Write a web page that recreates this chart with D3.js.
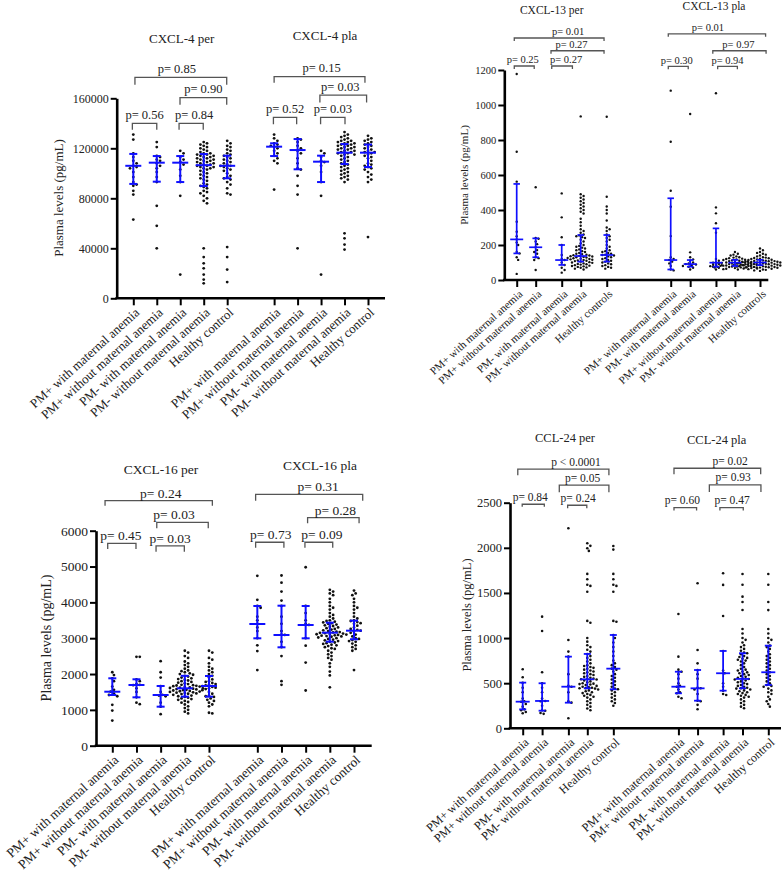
<!DOCTYPE html>
<html><head><meta charset="utf-8">
<script src="https://cdn.jsdelivr.net/npm/d3@7"></script>
<style>body{margin:0;background:#fff}</style>
</head><body><svg id="c" width="782" height="872"></svg>
<script>
// ---------------- DATA ----------------
const categories = ["PM+ with maternal anemia","PM+ without maternal anemia","PM- with maternal anemia","PM- without maternal anemia","Healthy control"];
const categoriesCxcl13Per = ["PM+ with maternal anemia","PM+ without maternal anemia","PM- with maternal anemia","PM- without maternal anemia","Healthy controls"];
const categoriesCxcl13Pla = ["PM+ with maternal anemia","PM- with maternal anemia","PM+ without maternal anemia","PM- without maternal anemia","Healthy controls"];

const cxcl4Titles = ["CXCL-4 per","CXCL-4 pla"];
const cxcl4Ticks = [0,40000,80000,120000,160000];
const cxcl4Values = [
 [131000,127000,116000,113000,110000,108000,106000,105000,104000,101000,97000,93000,91000,90000,86000,83000,63000],
 [125000,121000,114000,113000,111000,110000,108000,106000,104000,101000,97000,93000,74000,58000,40000],
 [118000,116000,113000,111000,109000,107000,103000,98000,93000,82000,19000],
 [125000,124000,123000,122000,121000,120000,119000,118000,117000,116000,116000,115000,115000,114000,114000,113000,113000,112000,112000,111000,111000,110000,110000,109000,109000,108000,108000,107000,107000,106000,106000,105000,105000,104000,104000,103000,102000,101000,100000,99000,98000,97000,96000,95000,94000,92000,91000,90000,89000,88000,86000,85000,84000,82000,80000,78000,76000,40000,33000,28000,24000,19000,15000,12000],
 [126000,124000,122000,121000,119000,118000,116000,115000,114000,113000,112000,111000,110000,109000,108000,107000,106000,106000,105000,104000,103000,102000,100000,98000,97000,96000,95000,93000,91000,88000,84000,83000,41000,33000,23000,13000],
 [131000,128000,126000,124000,123000,122000,121000,120000,118000,116000,114000,112000,110000,108000,87000],
 [128000,127000,125000,122000,120000,118000,116000,112000,108000,104000,103000,98000,90000,83000,40000],
 [118000,116000,113000,110000,109000,106000,101000,93000,82000,19000],
 [133000,131000,130000,129000,128000,127000,126000,126000,125000,125000,124000,124000,123000,123000,122000,122000,121000,121000,120000,120000,119000,119000,118000,118000,117000,117000,116000,116000,115000,115000,114000,113000,112000,111000,110000,109000,108000,107000,106000,105000,104000,103000,102000,101000,100000,99000,98000,97000,96000,95000,93000,52000,48000,43000,39000],
 [130000,128000,127000,126000,125000,124000,123000,122000,121000,120000,119000,118000,117000,117000,116000,115000,114000,113000,112000,110000,108000,107000,106000,105000,104000,103000,101000,99000,97000,95000,93000,49000]
];
const cxcl4Median = [106000,108500,108500,106500,106000,121300,118600,109300,116500,116500];
const cxcl4Q1 = [91500,93300,93000,89800,96000,113800,103200,93000,107400,105000];
const cxcl4Q3 = [115500,113800,113800,115400,114100,124000,127400,114100,123400,123000];
const cxcl4PText = ["p= 0.85","p= 0.90","p= 0.56","p= 0.84","p= 0.15","p= 0.03","p= 0.52","p= 0.03"];
const cxcl4PLevel = [176800,160500,140000,140000,177300,162600,144800,144800];

const cxcl13Titles = ["CXCL-13 per","CXCL-13 pla"];
const cxcl13Ticks = [0,200,400,600,800,1000,1200];
const cxcl13Values = [
 [1177,733,562,333,276,250,232,215,200,160,152,130,115,35],
 [530,240,236,220,205,187,171,160,150,130,125,114,57],
 [495,358,244,200,143,120,114,100,86,70,57,42],
 [935,490,480,470,460,450,440,430,420,410,400,390,380,350,330,310,290,280,270,260,255,250,245,240,230,220,210,200,195,190,185,180,175,170,165,160,155,150,148,145,142,140,138,136,134,132,130,128,126,124,122,120,118,116,114,112,110,108,105,102,100,98,95,92,90,88,85,82,80,78,75,72,70,65,60],
 [933,476,420,400,380,340,300,290,280,260,250,240,230,220,200,190,180,170,165,160,155,150,145,143,140,135,130,125,120,115,110,105,100,95,90,85,80,75,70,65],
 [1082,790,510,419,251,130,120,114,105,95,80,60,55],
 [949,158,130,118,110,100,95,91,88,85,80,76,70,60],
 [1067,415,381,324,270,120,110,100,99,92,85,80,76,70,60],
 [160,150,145,140,135,130,128,125,122,120,118,116,114,112,110,108,106,104,102,100,99,98,97,96,95,94,93,92,91,90,89,88,87,86,85,84,83,82,81,80,79,78,77,76,75,74,73,72,71,70,68,66,64,62,60],
 [180,170,160,155,150,145,140,135,130,128,126,124,122,120,118,116,114,112,110,109,108,107,106,105,104,103,102,101,100,99,98,97,96,95,94,93,92,91,90,90,89,88,87,86,85,85,84,83,82,81,80,80,79,78,77,76,75,74,73,72,71,70,68,66,64,62,60,58,55,52]
];
const cxcl13Median = [232,187,114,137,143,114,91,99,99,100];
const cxcl13Q1 = [152,130,86,105,105,60,76,76,80,85];
const cxcl13Q3 = [549,238,200,257,257,467,114,295,115,115];
const cxcl13PText = ["p= 0.01","p= 0.27","p= 0.25","p= 0.27","p= 0.01","p= 0.97","p= 0.30","p= 0.94"];
const cxcl13PLevel = [1383,1310,1223,1223,1407,1310,1221,1221];

const cxcl16Titles = ["CXCL-16 per","CXCL-16 pla"];
const cxcl16Ticks = [0,1000,2000,3000,4000,5000,6000];
const cxcl16Values = [
 [2050,1970,1880,1800,1650,1560,1507,1450,1415,1380,1140,980,700],
 [2480,2480,1850,1800,1720,1700,1690,1600,1500,1350,1200,1160],
 [2360,2050,1900,1660,1500,1420,1400,1380,1200,1090,880],
 [2650,2600,2500,2450,2350,2300,2250,2200,2150,2100,2080,2050,2020,2000,1980,1950,1930,1900,1880,1860,1840,1820,1800,1780,1760,1740,1720,1700,1690,1680,1670,1660,1650,1640,1630,1620,1610,1600,1590,1580,1570,1560,1550,1540,1530,1520,1510,1500,1490,1480,1470,1460,1450,1440,1420,1400,1380,1360,1340,1320,1300,1280,1250,1220,1200,1150,1100,1050,1000,950,900],
 [2650,2600,2450,2400,2300,2200,2150,2100,2050,2000,1950,1900,1850,1800,1780,1750,1720,1700,1680,1660,1640,1620,1600,1580,1550,1500,1450,1400,1380,1360,1320,1280,1250,1200,1150,1100,920,900],
 [4740,4070,3900,3850,3600,3500,3400,3300,3200,3000,2800,2640,2110],
 [4750,4550,4300,4050,3900,3600,3400,3200,3100,3090,2900,2750,2500,1800,1700],
 [4980,3900,3700,3500,3400,3370,3000,2790,2320,1540],
 [4350,4300,4250,4200,4100,4000,3900,3850,3800,3700,3650,3600,3550,3500,3480,3460,3440,3420,3400,3380,3360,3340,3320,3300,3280,3260,3240,3220,3200,3180,3170,3160,3150,3140,3130,3120,3110,3100,3090,3080,3070,3060,3050,3040,3020,3000,2980,2960,2940,2920,2900,2880,2860,2840,2820,2800,2780,2750,2720,2700,2650,2600,2550,2500,2450,2400,2300,2200,2070,1960,1630],
 [4330,4250,4200,4100,4000,3900,3850,3800,3700,3600,3550,3500,3480,3450,3420,3400,3350,3300,3260,3230,3210,3190,3150,3100,3050,3000,2980,2950,2920,2900,2850,2800,2750,2700,2650,2110]
];
const cxcl16Median = [1507,1694,1415,1601,1666,3397,3090,3369,3154,3210];
const cxcl16Q1 = [1415,1350,1089,1368,1368,2997,2746,2997,2903,2970];
const cxcl16Q3 = [1881,1853,1666,1950,1945,3899,3907,3899,3433,3489];
const cxcl16PText = ["p= 0.24","p= 0.03","p= 0.45","p= 0.03","p= 0.31","p= 0.28","p= 0.73","p= 0.09"];
const cxcl16PLevel = [6838,6235,5649,5574,7016,6363,5677,5677];

const ccl24Titles = ["CCL-24 per","CCL-24 pla"];
const ccl24Ticks = [0,500,1000,1500,2000,2500];
const ccl24Values = [
 [654,565,505,450,400,330,300,295,270,240,210,200,180,166],
 [1237,1079,621,500,450,400,330,303,300,250,200,195,170,160],
 [2217,979,850,794,600,470,461,400,300,284,111],
 [2050,2022,1996,1966,1711,1652,1590,1578,1514,1190,1170,1000,960,920,900,870,850,824,800,780,760,740,720,700,690,680,670,660,650,640,630,620,610,600,590,580,570,560,550,545,543,540,530,520,510,500,495,490,485,480,470,460,455,450,445,443,440,430,420,410,400,390,380,370,360,350,340,320,300,280,260,240,220,200],
 [2020,1980,1711,1652,1590,1578,1514,1190,1180,1034,1000,950,900,850,800,750,720,700,680,661,650,630,600,580,560,540,520,500,480,460,440,432,420,400,380,360,340,320,300,280,250],
 [1267,794,650,627,600,550,500,470,461,430,400,388,350,333],
 [1607,868,720,646,600,550,450,443,430,380,306,300,260,211],
 [1718,1589,1245,857,640,610,500,460,417,380,369],
 [1710,1590,1459,1400,1311,1100,1050,1000,980,950,920,900,880,860,840,832,820,800,790,780,770,760,750,740,720,700,680,660,650,640,630,620,610,600,590,580,570,560,550,547,540,530,520,510,500,490,480,470,460,450,443,440,430,420,410,400,390,380,370,360,350,340,320,300,280,260,240,222],
 [1710,1590,1400,1310,1100,1050,1000,980,950,916,900,880,850,820,800,780,760,740,720,700,680,660,640,621,600,580,560,540,520,500,480,470,460,440,420,400,380,350,320,300,270,240]
];
const ccl24Median = [295,303,461,543,661,461,443,610,547,621];
const ccl24Q1 = [210,195,284,443,432,388,306,417,443,480];
const ccl24Q3 = [506,499,794,824,1034,627,646,857,832,916];
const ccl24PText = ["p < 0.0001","p= 0.05","p= 0.84","p= 0.24","p= 0.02","p= 0.93","p= 0.60","p= 0.47"];
const ccl24PLevel = [2871,2694,2483,2472,2882,2697,2446,2446];

// ---------------- LAYOUT ----------------
const FONT = "'Liberation Serif','Times New Roman',Times,serif";
const BLUE = "#0f0fff";
const panels = [
 { values: cxcl4Values, med: cxcl4Median, q1: cxcl4Q1, q3: cxcl4Q3, titles: cxcl4Titles, ticks: cxcl4Ticks,
   labels: categories.concat(categories), pText: cxcl4PText, pLevel: cxcl4PLevel,
   slots:[0,1,2,3,4,6,7,8,9,10], x0:133.3, unit:23.47, axisX:116.7, axisEnd:385, yRange:[298.3,98.3], yMax:160000,
   titlePos:[[181.7,38.3],[325,35]], titleSize:13, tickSize:12, labelSize:13, ylabSize:13, pSize:12.5,
   ylab:[58,198], r:1.4, medW:16, capW:8, lw:2,
   br:[[0.07,3.98],[1.99,3.98],[-0.04,1.0],[1.95,2.98],[6.0,9.87],[7.95,9.94],[5.97,6.96],[7.98,9.02]],
   brDx:[-4,0,0,3,2,-3,0,0], brDrop:[7.5,7,6.5,6.5,6,7.5,7,7], pOff:8.5 },
 { values: cxcl13Values, med: cxcl13Median, q1: cxcl13Q1, q3: cxcl13Q3, titles: cxcl13Titles, ticks: cxcl13Ticks,
   labels: categoriesCxcl13Per.concat(categoriesCxcl13Pla), pText: cxcl13PText, pLevel: cxcl13PLevel,
   slots:[0,0.78,1.85,2.63,3.70,6.33,7.13,8.19,8.97,10], x0:516.7, unit:24.33, axisX:504.3, axisEnd:768.3, yRange:[280,70], yMax:1200,
   titlePos:[[551.7,9.5],[714,5.5]], titleSize:11.5, tickSize:10.5, labelSize:11, ylabSize:11, pSize:10.5,
   ylab:[464,175], r:1.2, medW:13, capW:6.5, lw:1.7,
   br:[[-0.1,3.59],[1.41,3.59],[-0.1,0.72],[1.44,2.29],[6.23,10.23],[8.06,10.25],[6.23,7.05],[8.26,9.07]],
   brDx:[9,-6,-1.5,4,-9,-1,-1.5,0], brDrop:[3,3,3,3,3,3,3,3], pOff:6 },
 { values: cxcl16Values, med: cxcl16Median, q1: cxcl16Q1, q3: cxcl16Q3, titles: cxcl16Titles, ticks: cxcl16Ticks,
   labels: categories.concat(categories), pText: cxcl16PText, pLevel: cxcl16PLevel,
   slots:[0,1,2,3,4,6,7,8,9,10], x0:112.3, unit:24.17, axisX:96, axisEnd:371.7, yRange:[745.7,530.7], yMax:6000,
   titlePos:[[161,469.3],[320,465]], titleSize:13.5, tickSize:13.5, labelSize:13.3, ylabSize:14, pSize:13.5,
   ylab:[46,638], r:1.4, medW:16, capW:8, lw:2,
   br:[[-0.30,4.14],[1.84,3.97],[-0.19,0.98],[1.81,2.98],[5.93,10.36],[8.08,10.21],[5.93,7.10],[7.97,9.12]],
   brDx:[2,-8.5,-1,0,9,2,1,3], brDrop:[5,6,5.7,5.7,6.4,5.6,5.4,5.4], pOff:7.4 },
 { values: ccl24Values, med: ccl24Median, q1: ccl24Q1, q3: ccl24Q3, titles: ccl24Titles, ticks: ccl24Ticks,
   labels: categories.concat(categories), pText: ccl24PText, pLevel: ccl24PLevel,
   slots:[0,0.79,1.86,2.63,3.69,6.34,7.12,8.16,8.95,10], x0:522.7, unit:24.56, axisX:510, axisEnd:781, yRange:[728.3,502.7], yMax:2500,
   titlePos:[[565,438.3],[716.7,440]], titleSize:12.5, tickSize:12.5, labelSize:12.2, ylabSize:12.5, pSize:11.5,
   ylab:[466.7,615], r:1.3, medW:14, capW:7, lw:1.8,
   br:[[-0.20,3.51],[1.49,3.51],[-0.02,0.88],[1.83,2.61],[6.16,9.69],[7.60,9.70],[6.16,7.08],[8.03,8.98]],
   brDx:[12.7,-1.5,-3,1,12.7,-2,-3,0.5], brDrop:[6,7,2.5,3,6,7,3,3], pOff:7.6 }
];

const svg = d3.select("#c").style("font-family", FONT);

function swarm(vals, y, cx, d) {
  const pts = vals.map(v => ({v, y: y(v)})).sort((a,b)=>a.y-b.y);
  const placed = [];
  pts.forEach(p => {
    let best = 0;
    for (let k = 0; k < 400; k++) {
      const m = Math.ceil(k/2) * d * 0.5;
      const off = k === 0 ? 0 : (k % 2 ? m : -m);
      let ok = true;
      for (const q of placed) {
        const dy = q.y - p.y, dx = q.x - (cx + off);
        if (dx*dx + dy*dy < d*d) { ok = false; break; }
      }
      if (ok) { best = off; break; }
    }
    p.x = cx + best;
    placed.push(p);
  });
  return placed;
}

panels.forEach(P => {
  const g = svg.append("g");
  const xs = d3.scaleLinear().domain([0,10]).range([P.x0, P.x0 + 10*P.unit]);
  const ys = d3.scaleLinear().domain([0, P.yMax]).range(P.yRange);
  const x0 = ys(0);

  P.titles.forEach((t,i) => {
    g.append("text").attr("x", P.titlePos[i][0]).attr("y", P.titlePos[i][1])
      .attr("text-anchor","middle").attr("dominant-baseline","central")
      .attr("font-size", P.titleSize).attr("fill","#222").text(t);
  });

  const ya = g.append("g").attr("transform", `translate(${P.axisX},0)`)
    .call(d3.axisLeft(ys).tickValues(P.ticks).tickFormat(d3.format("d")).tickSize(6).tickSizeOuter(0).tickPadding(2));
  ya.select(".domain").attr("stroke","#000").attr("stroke-width",2.6);
  ya.selectAll(".tick line").attr("stroke","#000").attr("stroke-width",2);
  ya.selectAll(".tick text").attr("font-family",FONT).attr("font-size",P.tickSize).attr("fill","#222");

  const xa = g.append("g").attr("transform", `translate(0,${x0})`)
    .call(d3.axisBottom(xs).tickValues(P.slots).tickFormat("").tickSize(7).tickSizeOuter(0));
  xa.select(".domain").remove();
  xa.selectAll(".tick line").attr("stroke","#000").attr("stroke-width",2);
  g.append("line").attr("x1",P.axisX-1.3).attr("x2",P.axisEnd).attr("y1",x0).attr("y2",x0)
    .attr("stroke","#000").attr("stroke-width",2.6);

  P.slots.forEach((s,i) => {
    g.append("text").attr("transform", `translate(${xs(s)+4},${x0+12}) rotate(-42)`)
      .attr("text-anchor","end").attr("dy","0.35em")
      .attr("font-size",P.labelSize).attr("fill","#222").text(P.labels[i]);
  });

  g.append("text").attr("transform", `translate(${P.ylab[0]},${P.ylab[1]}) rotate(-90)`)
    .attr("text-anchor","middle").attr("dominant-baseline","central")
    .attr("font-size",P.ylabSize).attr("fill","#222").text("Plasma levels (pg/mL)");

  P.values.forEach((vals,i) => {
    const cx = xs(P.slots[i]);
    const pts = swarm(vals, ys, cx, P.r*2 + 0.5);
    g.append("g").selectAll("circle").data(pts).join("circle")
      .attr("cx", d => d.x).attr("cy", d => d.y).attr("r", P.r).attr("fill","#111");
  });

  P.slots.forEach((s,i) => {
    const cx = xs(s);
    const bg = g.append("g").attr("stroke",BLUE).attr("stroke-width",P.lw);
    bg.append("line").attr("x1",cx).attr("x2",cx).attr("y1",ys(P.q1[i])).attr("y2",ys(P.q3[i]));
    bg.append("line").attr("x1",cx-P.medW/2).attr("x2",cx+P.medW/2).attr("y1",ys(P.med[i])).attr("y2",ys(P.med[i]));
    [P.q1[i],P.q3[i]].forEach(v => bg.append("line").attr("x1",cx-P.capW/2).attr("x2",cx+P.capW/2).attr("y1",ys(v)).attr("y2",ys(v)));
  });

  P.pText.forEach((t,i) => {
    const xa1 = xs(P.br[i][0]), xb = xs(P.br[i][1]), yy = ys(P.pLevel[i]), dr = P.brDrop[i];
    g.append("path").attr("d", `M${xa1},${yy+dr}V${yy}H${xb}V${yy+dr}`)
      .attr("fill","none").attr("stroke","#555").attr("stroke-width",1.3);
    g.append("text").attr("x",(xa1+xb)/2 + P.brDx[i]).attr("y", yy - P.pOff)
      .attr("text-anchor","middle").attr("dominant-baseline","central")
      .attr("font-size",P.pSize).attr("fill","#222").text(t);
  });
});
</script></body></html>
